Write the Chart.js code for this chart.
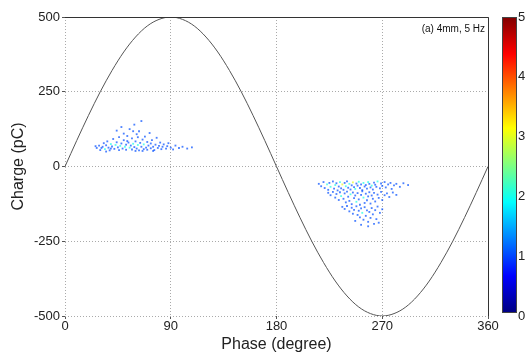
<!DOCTYPE html>
<html>
<head>
<meta charset="utf-8">
<script src="https://cdn.jsdelivr.net/npm/chart.js@4/dist/chart.umd.min.js"></script>
<style>
  html, body { margin: 0; padding: 0; background: #fff; }
  #wrap { width: 528px; height: 354px; }
</style>
</head>
<body>
<div id="wrap"><canvas id="c" width="528" height="354"></canvas></div>
<script>
// Applied voltage reference curve (scaled to charge axis), every 10 degrees
const wavePhase = [0,10,20,30,40,50,60,70,80,90,100,110,120,130,140,150,160,170,180,
  190,200,210,220,230,240,250,260,270,280,290,300,310,320,330,340,350,360];
const waveCharge = [0,87,171,250,321,383,433,470,492,500,492,470,433,383,321,250,171,87,0,
  -87,-171,-250,-321,-383,-433,-470,-492,-500,-492,-470,-433,-383,-321,-250,-171,-87,0];

// Discharge pulses in the positive half cycle: phase (deg), charge (pC), count
const posPhase = [27,29,30,32,33,34,35,36,37,38,39,40,41,42,43,44,45,46,46,47,
  48,49,50,50,51,52,52,53,54,55,55,56,57,57,58,59,59,60,61,61,
  62,63,63,64,65,65,66,67,67,68,69,70,70,71,72,73,73,74,75,76,
  77,78,79,80,81,82,83,84,86,87,88,90,92,94,97,100,104,108,44,48,
  53,58,62,39,35,31,26,60,66,75];
const posCharge = [62,70,55,66,78,58,71,84,63,54,75,67,92,59,72,81,64,55,98,69,
  77,60,88,110,66,73,56,102,80,63,125,70,94,57,76,140,65,84,108,60,
  72,54,118,79,66,152,90,58,74,100,63,82,56,70,112,61,77,88,66,55,
  73,96,62,69,80,58,66,74,60,68,78,63,57,70,62,66,60,64,120,132,
  85,118,98,60,50,62,68,52,52,52];
const posCount = [1,1,1,1,1,2,1,1,1,1,2,1,1,1,2,1,1,1,1,2,
  1,1,1,1,2,1,1,1,1,2,1,1,1,1,2,1,1,1,1,1,
  2,1,1,1,1,1,1,1,2,1,1,1,1,1,1,1,1,1,1,1,
  1,1,1,1,1,1,1,1,1,1,1,1,1,1,1,1,1,1,1,1,
  1,1,1,1,1,1,1,1,1,1];

// Discharge pulses in the negative half cycle: phase (deg), charge (pC), count
const negPhase = [216,218,220,221,223,224,225,226,228,229,230,231,232,233,234,235,236,237,238,239,
  240,241,242,243,244,245,246,247,248,249,250,251,252,253,254,255,256,257,258,259,
  260,261,262,263,264,265,266,268,269,270,272,273,275,277,278,280,282,285,288,292,
  224,226,228,230,231,233,234,235,237,238,239,240,241,242,243,244,245,246,247,248,
  249,250,251,252,253,254,255,256,257,258,259,260,261,262,263,264,266,267,269,270,
  272,274,276,279,282,236,238,240,242,244,245,246,248,249,250,251,252,253,254,255,
  256,257,258,259,260,261,262,263,264,265,266,268,270,252,258,247,267];
const negCharge = [-58,-66,-52,-72,-60,-78,-55,-68,-50,-74,-62,-56,-80,-67,-52,-73,-60,-78,-55,-66,
  -50,-71,-58,-77,-63,-53,-69,-75,-57,-64,-51,-72,-60,-79,-55,-67,-62,-74,-52,-58,
  -70,-64,-77,-54,-61,-68,-50,-73,-57,-65,-52,-70,-60,-55,-75,-63,-58,-68,-56,-62,
  -88,-96,-85,-104,-92,-112,-86,-99,-108,-90,-120,-84,-101,-115,-93,-126,-87,-106,-97,-118,
  -89,-110,-128,-95,-83,-104,-122,-91,-113,-100,-86,-124,-97,-108,-88,-117,-94,-105,-85,-112,
  -96,-90,-102,-87,-95,-135,-142,-132,-150,-138,-158,-145,-133,-162,-148,-170,-140,-155,-178,-136,
  -165,-147,-185,-152,-172,-139,-160,-192,-146,-176,-134,-155,-143,-195,-200,-182,-188];
const negCount = [1,1,1,1,2,1,1,2,1,1,2,1,1,1,2,1,3,1,1,2,
  1,1,2,1,1,3,1,2,1,1,2,1,1,1,2,1,1,1,2,1,
  1,2,1,1,1,1,2,1,1,1,1,1,1,1,1,1,1,1,1,1,
  1,1,1,1,1,1,1,2,1,1,1,1,1,1,2,1,1,1,1,2,
  1,1,1,1,1,2,1,1,1,1,1,1,1,1,1,1,1,1,1,1,
  1,1,1,1,1,1,1,1,1,1,1,1,1,1,1,1,1,2,1,1,
  1,1,1,1,1,1,1,1,1,1,1,1,1,1,1,1,1];

const xTicks = [0, 90, 180, 270, 360];
const yTicks = [-500, -250, 0, 250, 500];
const colorTicks = [0, 1, 2, 3, 4, 5];
const colorMax = 5;

const FONT = '"Liberation Sans", Arial, Helvetica, sans-serif';

// jet colour map, t in [0,1]
function jet(t) {
  const c = v => Math.round(255 * Math.max(0, Math.min(1, v)));
  const r = 1.5 - Math.abs(4 * t - 3);
  const g = 1.5 - Math.abs(4 * t - 2);
  const b = 1.5 - Math.abs(4 * t - 1);
  return [c(r), c(g), c(b)];
}
function countColor(n) {
  const [r, g, b] = jet(n / colorMax);
  return `rgba(${r},${g},${b},0.7)`;
}

function toPoints(xs, ys) { return xs.map((x, i) => ({ x, y: ys[i] })); }

// drop the edge-label padding so the plot box sits where the layout puts it
function noEdgePad(s) {
  s.paddingTop = 0; s.paddingBottom = 0; s.paddingLeft = 0; s.paddingRight = 0;
}

const frameAndColorbar = {
  id: 'frameAndColorbar',
  afterDatasetsDraw(chart) {
    const { ctx, chartArea: a, scales } = chart;
    ctx.save();
    // dark box edges (top and right)
    ctx.strokeStyle = '#333';
    ctx.lineWidth = 1;
    ctx.beginPath();
    ctx.moveTo(a.left, a.top + 0.5);
    ctx.lineTo(a.right + 0.5, a.top + 0.5);
    ctx.lineTo(a.right + 0.5, a.bottom);
    ctx.stroke();

    // label in the upper right corner
    ctx.fillStyle = '#111';
    ctx.font = '10px ' + FONT;
    ctx.textAlign = 'right';
    ctx.textBaseline = 'middle';
    ctx.fillText('(a) 4mm, 5 Hz', a.right - 3, a.top + 12);

    // colour bar along the count scale
    const cs = scales.c;
    const top = cs.getPixelForValue(colorMax);
    const bot = cs.getPixelForValue(0) - 3;
    const x0 = a.right + 14, w = 15;
    const grad = ctx.createLinearGradient(0, bot, 0, top);
    const stops = 32;
    for (let i = 0; i <= stops; i++) {
      const [r, g, b] = jet(i / stops);
      grad.addColorStop(i / stops, `rgb(${r},${g},${b})`);
    }
    ctx.fillStyle = grad;
    ctx.fillRect(x0, top, w, bot - top);
    ctx.strokeStyle = '#444';
    ctx.strokeRect(x0 + 0.5, top + 0.5, w - 1, bot - top - 1);
    ctx.restore();
  }
};

new Chart(document.getElementById('c'), {
  type: 'scatter',
  data: {
    datasets: [
      {
        label: 'Voltage',
        type: 'line',
        data: toPoints(wavePhase, waveCharge),
        borderColor: '#555',
        borderWidth: 1,
        pointRadius: 0,
        cubicInterpolationMode: 'monotone',
        fill: false,
        order: 0
      },
      {
        label: 'Positive',
        data: toPoints(posPhase, posCharge),
        pointStyle: 'rect',
        pointRadius: 1.3,
        borderWidth: 0,
        backgroundColor: ctx => countColor(posCount[ctx.dataIndex]),
        order: 1
      },
      {
        label: 'Negative',
        data: toPoints(negPhase, negCharge),
        pointStyle: 'rect',
        pointRadius: 1.3,
        borderWidth: 0,
        backgroundColor: ctx => countColor(negCount[ctx.dataIndex]),
        order: 1
      }
    ]
  },
  options: {
    responsive: false,
    animation: false,
    layout: { padding: { top: 17, left: 0, right: 0, bottom: 0 } },
    plugins: {
      legend: { display: false },
      tooltip: { enabled: false }
    },
    scales: {
      x: {
        type: 'linear',
        min: 0, max: 360,
        afterBuildTicks: s => { s.ticks = xTicks.map(v => ({ value: v })); },
        afterFit: s => { s.height = 38; noEdgePad(s); },
        ticks: { color: '#222', font: { family: FONT, size: 13 }, padding: 0, maxRotation: 0 },
        grid: { color: '#aaa', lineWidth: 1, tickLength: 3, tickColor: '#555' },
        border: { display: false, dash: [1, 2] },
        title: {
          display: true, text: 'Phase (degree)', color: '#222',
          font: { family: FONT, size: 16 }, padding: { top: -2, bottom: 0 }
        }
      },
      y: {
        type: 'linear',
        min: -500, max: 500,
        afterBuildTicks: s => { s.ticks = yTicks.map(v => ({ value: v })); },
        afterFit: s => { s.width = 65; noEdgePad(s); },
        ticks: { color: '#222', font: { family: FONT, size: 13 }, padding: 2 },
        grid: { color: '#aaa', lineWidth: 1, tickLength: 3, tickColor: '#555' },
        border: { display: false, dash: [1, 2] },
        title: {
          display: true, text: 'Charge (pC)', color: '#222',
          font: { family: FONT, size: 16 }, padding: { top: 9, bottom: 4 }
        }
      },
      c: {
        type: 'linear',
        position: 'right',
        min: 0, max: colorMax,
        afterBuildTicks: s => { s.ticks = colorTicks.map(v => ({ value: v })); },
        afterFit: s => { s.width = 40; noEdgePad(s); },
        ticks: { color: '#222', font: { family: FONT, size: 13 }, padding: 30 },
        grid: { display: false, drawOnChartArea: false, drawTicks: false },
        border: { display: false }
      }
    }
  },
  plugins: [frameAndColorbar]
});
</script>
</body>
</html>
